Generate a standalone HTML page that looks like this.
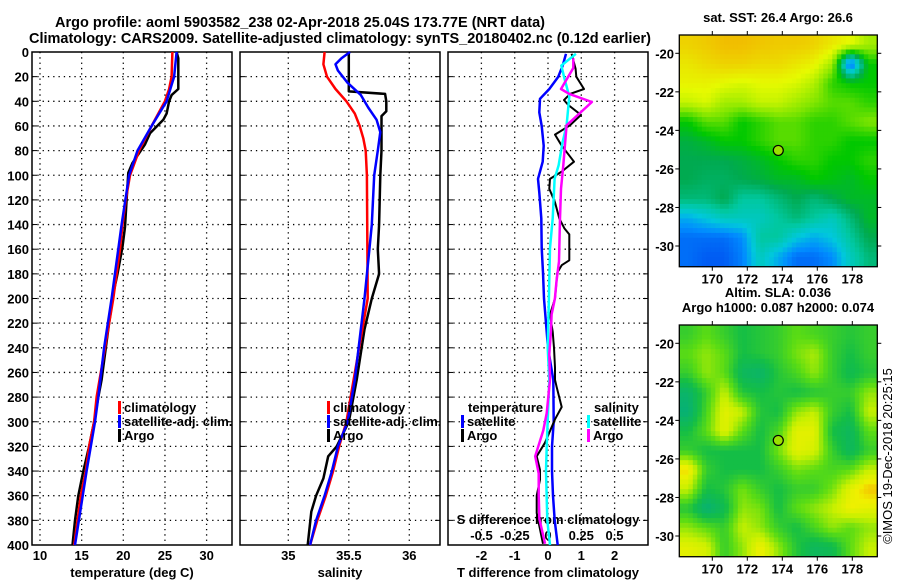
<!DOCTYPE html>
<html><head><meta charset="utf-8"><style>
html,body{margin:0;padding:0;background:#fff;}
svg{display:block;font-family:"Liberation Sans",Arial,sans-serif;font-weight:bold;}
</style></head><body>
<svg id="chart" width="900" height="580" viewBox="0 0 900 580" xmlns="http://www.w3.org/2000/svg">
<text x="55" y="27" font-size="15" textLength="490" lengthAdjust="spacingAndGlyphs">Argo profile: aoml 5903582_238 02-Apr-2018 25.04S 173.77E (NRT data)</text>
<text x="29" y="43" font-size="15" textLength="622" lengthAdjust="spacingAndGlyphs">Climatology: CARS2009. Satellite-adjusted climatology: synTS_20180402.nc (0.12d earlier)</text>
<g id="g"></g>
</svg>
<script>
// ---- Depth axis ----
const depthTicks = [0,20,40,60,80,100,120,140,160,180,200,220,240,260,280,300,320,340,360,380,400];
// ---- Temperature panel ----
const tempTicks = [10,15,20,25,30];
const argoTempDepth = [0,5,30,35,40,50,55,66,75,90,98,120,142,158,180,196,220,240,266,280,300,320,340,360,380,400];
const argoTemp      = [26.4,26.6,26.6,25.8,25.5,25.2,24.8,23.2,22.6,21.1,20.6,20.4,20.2,19.9,19.3,18.8,18.3,17.9,17.4,17.0,16.5,15.9,15.2,14.6,14.2,13.9];
const climTempDepth = [0,20,30,40,60,80,100,120,140,160,180,200,240,280,300,320,340,360,380,400];
const climTemp      = [25.9,25.8,25.5,25.0,23.4,21.9,20.8,20.3,19.9,19.6,19.2,18.8,17.8,16.8,16.5,15.9,15.5,14.9,14.5,14.1];
const satTempDepth  = [0,20,40,60,80,100,140,200,240,280,300,340,400];
const satTemp       = [26.4,26.1,25.2,23.4,21.7,20.7,19.8,18.6,17.7,17.0,16.6,15.6,14.2];
// ---- Salinity panel ----
const salTicks = [35,35.5,36];
const salTickLabels = ["35","35.5","36"];
const argoSalDepth = [0,32,34,40,48,52,80,100,140,160,180,200,225,266,300,320,328,346,360,373,400];
const argoSal      = [35.50,35.50,35.80,35.81,35.81,35.77,35.77,35.76,35.75,35.74,35.75,35.69,35.63,35.565,35.50,35.40,35.33,35.29,35.23,35.19,35.16];
const climSalDepth = [0,10,20,30,40,50,60,70,80,100,200,266,300,320,340,360,380,400];
const climSal      = [35.30,35.29,35.32,35.39,35.48,35.55,35.59,35.62,35.64,35.65,35.656,35.54,35.48,35.42,35.37,35.31,35.24,35.18];
const satSalDepth  = [0,5,10,15,25,35,45,55,65,80,100,140,160,200,266,300,320,340,360,380,400];
const satSal       = [35.51,35.44,35.39,35.41,35.49,35.60,35.66,35.73,35.76,35.74,35.71,35.69,35.67,35.63,35.55,35.49,35.41,35.36,35.30,35.23,35.18];
// ---- Difference panel ----
const dTTicks = [-2,-1,0,1,2];
const dSTicks = [-0.5,-0.25,0,0.25,0.5];
const dSTickLabels = ["-0.5","-0.25","0","0.25","0.5"];
const satDTDepth = [1.5,11,20,30,38,49,60,76,89,103,114,135,159,179,200,220,240,266,300,320,340,360,380,400];
const satDT      = [0.54,0.44,0.31,0.04,-0.24,-0.26,-0.19,-0.13,-0.16,-0.3,-0.26,-0.2,-0.19,-0.15,-0.12,-0.06,0.0,0.16,0.17,0.12,0.12,0.15,0.2,0.29];
const argoDTDepth = [1.5,13.6,20,30,34,39,43,51,59.5,67,76,89,97,103,111,122,135,143,148,169,173,179,200,213,227,240,256,266,272,288,298,317,328,339,347,360,374,399];
const argoDT      = [0.71,0.83,0.85,1.08,0.66,0.48,0.61,0.99,0.66,0.21,0.41,0.78,0.41,0.06,0.04,0.21,0.34,0.49,0.64,0.64,0.41,0.28,0.21,0.06,0.14,0.18,0.21,0.21,0.26,0.41,0.21,-0.09,-0.34,-0.24,-0.24,-0.34,-0.34,-0.15];
const satDSDepth = [1.5,11,22,36,59.5,73,92,103,135,159,200,240,266,320,340,380,400];
const satDS      = [0.21,0.10,0.125,0.16,0.14,0.11,0.08,0.05,0.035,0.015,0.007,-0.002,0.01,-0.01,-0.015,-0.005,0.015];
const argoDSDepth = [5,13,30,34,40.6,59.5,76,92,111,135,170,186,200,213,227,245,266,293,307,328,342,360,379,399];
const argoDS      = [0.19,0.19,0.098,0.16,0.33,0.14,0.127,0.115,0.098,0.09,0.083,0.064,0.052,0.027,0.022,0.01,0.015,-0.01,-0.035,-0.096,-0.07,-0.07,-0.065,-0.022];
// ---- Maps ----
const lonTicks = [170,172,174,176,178];
const latTicks = [-20,-22,-24,-26,-28,-30];
const sstGrid = [
[0.9,0.92,0.95,0.95,0.93,0.92,0.92,0.9,0.85,0.8,0.7],
[0.85,0.88,0.9,0.9,0.88,0.88,0.85,0.82,0.7,0.0,0.5],
[0.82,0.82,0.8,0.78,0.8,0.8,0.78,0.72,0.55,0.5,0.5],
[0.75,0.78,0.7,0.7,0.75,0.75,0.7,0.65,0.6,0.6,0.55],
[0.5,0.6,0.6,0.5,0.55,0.6,0.6,0.55,0.55,0.6,0.65],
[0.42,0.45,0.5,0.5,0.55,0.6,0.6,0.55,0.55,0.5,0.5],
[0.4,0.4,0.4,0.42,0.45,0.5,0.55,0.55,0.5,0.5,0.55],
[0.4,0.38,0.38,0.4,0.42,0.45,0.45,0.5,0.48,0.45,0.5],
[0.35,0.35,0.4,0.3,0.3,0.35,0.4,0.35,0.4,0.45,0.45],
[0.15,0.2,0.25,0.25,0.25,0.3,0.35,0.3,0.25,0.35,0.45],
[0.05,0.05,0.05,0.1,0.3,0.3,0.2,0.15,0.2,0.3,0.4],
[0.05,0.02,0.02,0.08,0.25,0.15,0.05,0.05,0.1,0.25,0.35]];
const slaGrid = [
[0.4,0.5,0.4,0.3,0.35,0.4,0.5,0.45,0.4,0.35,0.4],
[0.5,0.6,0.5,0.3,0.35,0.4,0.55,0.65,0.4,0.3,0.4],
[0.4,0.6,0.5,0.2,0.15,0.35,0.45,0.6,0.4,0.25,0.35],
[0.15,0.4,0.7,0.35,0.3,0.35,0.3,0.35,0.4,0.4,0.6],
[0.1,0.45,0.8,0.7,0.35,0.3,0.6,0.7,0.4,0.3,0.7],
[0.3,0.5,0.8,0.5,0.3,0.45,0.8,0.8,0.3,0.2,0.5],
[0.4,0.3,0.3,0.3,0.3,0.55,0.8,0.75,0.4,0.2,0.4],
[0.9,0.4,0.3,0.3,0.3,0.4,0.55,0.5,0.45,0.5,0.7],
[0.7,0.3,0.35,0.55,0.4,0.3,0.4,0.4,0.55,0.8,0.95],
[0.35,0.1,0.25,0.6,0.55,0.3,0.5,0.6,0.7,0.85,0.8],
[0.6,0.5,0.4,0.7,0.6,0.4,0.3,0.45,0.6,0.5,0.6],
[0.8,0.75,0.4,0.6,0.85,0.6,0.35,0.2,0.25,0.5,0.7]];
const floatLon = 173.77, floatLat = -25.04;

const NS="http://www.w3.org/2000/svg";
const G=document.getElementById('g');
function el(tag,attrs,parent){const e=document.createElementNS(NS,tag);for(const k in attrs)e.setAttribute(k,attrs[k]);(parent||G).appendChild(e);return e;}
function txt(x,y,s,size,anchor,parent){const t=el('text',{x:x,y:y,'font-size':size,'text-anchor':anchor||'start'},parent);t.textContent=s;return t;}

const TOP=52, BOT=545;
const yD=d=>TOP+d*(BOT-TOP)/400;
const panels=[
 {name:'temperature-panel',x0:32,x1:232,sx:v=>40+(v-10)*8.33},
 {name:'salinity-panel',x0:240,x1:440,sx:v=>288.3+(v-35)*121},
 {name:'difference-panel',x0:448,x1:648,sx:v=>548+v*33.3}];
const sxS=v=>548+v*133;

function drawFrame(p,ticksX){
 const g=el('g',{});
 
 
 depthTicks.forEach((d,i)=>{ if(i>0&&i<depthTicks.length-1){const l=el('line',{x1:p.x0,x2:p.x1,y1:yD(d),y2:yD(d),stroke:'#000','stroke-width':1.3,'stroke-dasharray':'1.3 4'},g);
   }
   el('line',{x1:p.x0,x2:p.x0+5,y1:yD(d),y2:yD(d),stroke:'#000','stroke-width':1},g);
   el('line',{x1:p.x1-5,x2:p.x1,y1:yD(d),y2:yD(d),stroke:'#000','stroke-width':1},g);});
 ticksX.forEach(v=>{const x=p.sx(v);
   const l=el('line',{x1:x,x2:x,y1:TOP,y2:BOT,stroke:'#000','stroke-width':1.3,'stroke-dasharray':'1.3 4'},g);
   });
 const r=el('rect',{x:p.x0,y:TOP,width:p.x1-p.x0,height:BOT-TOP,fill:'none',stroke:'#000','stroke-width':1.5},g);
 
 return g;}
function line(g,xs,ds,sx,color,w,name){
 const pts=xs.map((v,i)=>sx(v).toFixed(1)+','+yD(ds[i]).toFixed(1)).join(' ');
 const pl=el('polyline',{points:pts,fill:'none',stroke:color,'stroke-width':w,'stroke-linejoin':'round'},g);
 
 }
function legend(g,x,y,color,label){
 const b=el('rect',{x:x,y:y-11,width:3,height:13,fill:color},g);
 
 const t=txt(x+6,y,label,13,'start',g);
 }

// Panel 1
let g1=drawFrame(panels[0],tempTicks);
depthTicks.forEach(d=>{const t=txt(29,yD(d)+5,String(d),13,'end',g1);
 });
tempTicks.forEach(v=>{const t=txt(panels[0].sx(v),560,String(v),13,'middle',g1);
 });
let at=txt(132,577,'temperature (deg C)',13,'middle',g1);

line(g1,argoTemp,argoTempDepth,panels[0].sx,'#000',2.5,'argo-temperature-line');
line(g1,climTemp,climTempDepth,panels[0].sx,'#f00',2.5,'climatology-temperature-line');
line(g1,satTemp,satTempDepth,panels[0].sx,'#00f',2.5,'satellite-temperature-line');
legend(g1,118,412,'#f00','climatology');legend(g1,118,426,'#00f','satellite-adj. clim.');legend(g1,118,440,'#000','Argo');

// Panel 2
let g2=drawFrame(panels[1],salTicks);
salTicks.forEach((v,i)=>{const t=txt(panels[1].sx(v),560,salTickLabels[i],13,'middle',g2);
 });
at=txt(340,577,'salinity',13,'middle',g2);

line(g2,argoSal,argoSalDepth,panels[1].sx,'#000',2.5,'argo-salinity-line');
line(g2,climSal,climSalDepth,panels[1].sx,'#f00',2.5,'climatology-salinity-line');
line(g2,satSal,satSalDepth,panels[1].sx,'#00f',2.5,'satellite-salinity-line');
legend(g2,327,412,'#f00','climatology');legend(g2,327,426,'#00f','satellite-adj. clim.');legend(g2,327,440,'#000','Argo');

// Panel 3
let g3=drawFrame(panels[2],dTTicks);
dTTicks.forEach(v=>{const t=txt(panels[2].sx(v),560,String(v),13,'middle',g3);
 });
dSTicks.forEach((v,i)=>{const t=txt(sxS(v),540,dSTickLabels[i],13,'middle',g3);
 });
at=txt(548,524,'S difference from climatology',13,'middle',g3);

at=txt(548,577,'T difference from climatology',13,'middle',g3);

line(g3,satDT,satDTDepth,panels[2].sx,'#00f',2.5,'satellite-t-difference-line');
line(g3,argoDT,argoDTDepth,panels[2].sx,'#000',2,'argo-t-difference-line');
line(g3,satDS,satDSDepth,sxS,'#0ff',2.5,'satellite-s-difference-line');
line(g3,argoDS,argoDSDepth,sxS,'#f0f',2.5,'argo-s-difference-line');
let lt=txt(468,412,'temperature',13,'start',g3);
lt=txt(594,412,'salinity',13,'start',g3);
legend(g3,461,426,'#00f','satellite');legend(g3,461,440,'#000','Argo');
legend(g3,587,426,'#0ff','satellite');legend(g3,587,440,'#f0f','Argo');

// Maps
function lerpColor(stops,v){v=Math.max(0,Math.min(1,v));
 for(let i=1;i<stops.length;i++){if(v<=stops[i][0]){const a=stops[i-1],b=stops[i];const t=(v-a[0])/(b[0]-a[0]||1);
  const c=[0,1,2].map(k=>Math.round(a[1][k]+(b[1][k]-a[1][k])*t));return 'rgb('+c.join(',')+')';}}
 return 'rgb('+stops[stops.length-1][1].join(',')+')';}
function sample(grid,fr,fc){
 const R=grid.length,C=grid[0].length;
 const r=Math.max(0,Math.min(R-1,fr)),c=Math.max(0,Math.min(C-1,fc));
 const r0=Math.floor(r),c0=Math.floor(c),r1=Math.min(R-1,r0+1),c1=Math.min(C-1,c0+1),tr=r-r0,tc=c-c0;
 return grid[r0][c0]*(1-tr)*(1-tc)+grid[r0][c1]*(1-tr)*tc+grid[r1][c0]*tr*(1-tc)+grid[r1][c1]*tr*tc;}
const sstStops=[[0,[0,80,240]],[0.1,[0,140,255]],[0.2,[0,200,220]],[0.3,[0,200,160]],[0.4,[0,170,80]],[0.5,[0,200,0]],[0.65,[130,230,0]],[0.8,[230,250,0]],[1,[245,170,0]]];
const slaStops=[[0,[0,170,140]],[0.3,[20,190,70]],[0.5,[90,220,20]],[0.7,[200,240,0]],[0.85,[240,240,0]],[1,[245,175,0]]];
function drawMap(name,top,grid,stops,titles,sub){
 const L=679.3,R=877.3,B=top+231.7;
 const lonX=lon=>712.3+(lon-170)*17.5;
 const latY=lat=>top+18.3+(-20-lat)*19.27;
 const g=el('g',{});
 
 const rows=grid.length,cols=grid[0].length;
 const nr=rows*sub,nc=cols*sub,cw=(R-L)/nc,ch=(B-top)/nr;
 for(let r=0;r<nr;r++)for(let c=0;c<nc;c++){
  const v=sample(grid,(r+0.5)/sub-0.5,(c+0.5)/sub-0.5);
  const cell=el('rect',{x:(L+c*cw).toFixed(2),y:(top+r*ch).toFixed(2),width:(cw+0.5).toFixed(2),height:(ch+0.5).toFixed(2),fill:lerpColor(stops,v)},g);
  }
 const fr=el('rect',{x:L,y:top,width:R-L,height:B-top,fill:'none',stroke:'#000','stroke-width':1.3},g);
 
 lonTicks.forEach(lon=>{const x=lonX(lon);
  el('line',{x1:x,x2:x,y1:top,y2:top-4,stroke:'#000'},g);el('line',{x1:x,x2:x,y1:B,y2:B+4,stroke:'#000'},g);
  const t=txt(x,B+17,String(lon),13,'middle',g);});
 latTicks.forEach(lat=>{const y=latY(lat);
  el('line',{x1:L,x2:L-4,y1:y,y2:y,stroke:'#000'},g);el('line',{x1:R,x2:R+4,y1:y,y2:y,stroke:'#000'},g);
  const t=txt(674,y+5,String(lat),13,'end',g);});
 const c=el('circle',{cx:lonX(floatLon),cy:latY(floatLat),r:5,fill:'#9be000',stroke:'#000','stroke-width':1.2},g);
 
 titles.forEach((s,i)=>{const t=txt(778,top-13-(titles.length-1-i)*15,s,13,'middle',g);
  });
}
drawMap('sst-map',35,sstGrid,sstStops,['sat. SST: 26.4 Argo: 26.6'],4);
drawMap('sla-map',325,slaGrid,slaStops,['Altim. SLA: 0.036','Argo h1000: 0.087 h2000: 0.074'],4);
const cr=el('text',{x:0,y:0,'font-size':13,'text-anchor':'middle','font-weight':'normal',transform:'translate(892,456) rotate(-90)'});
cr.textContent='©IMOS 19-Dec-2018 20:25:15';


</script>
</body></html>
